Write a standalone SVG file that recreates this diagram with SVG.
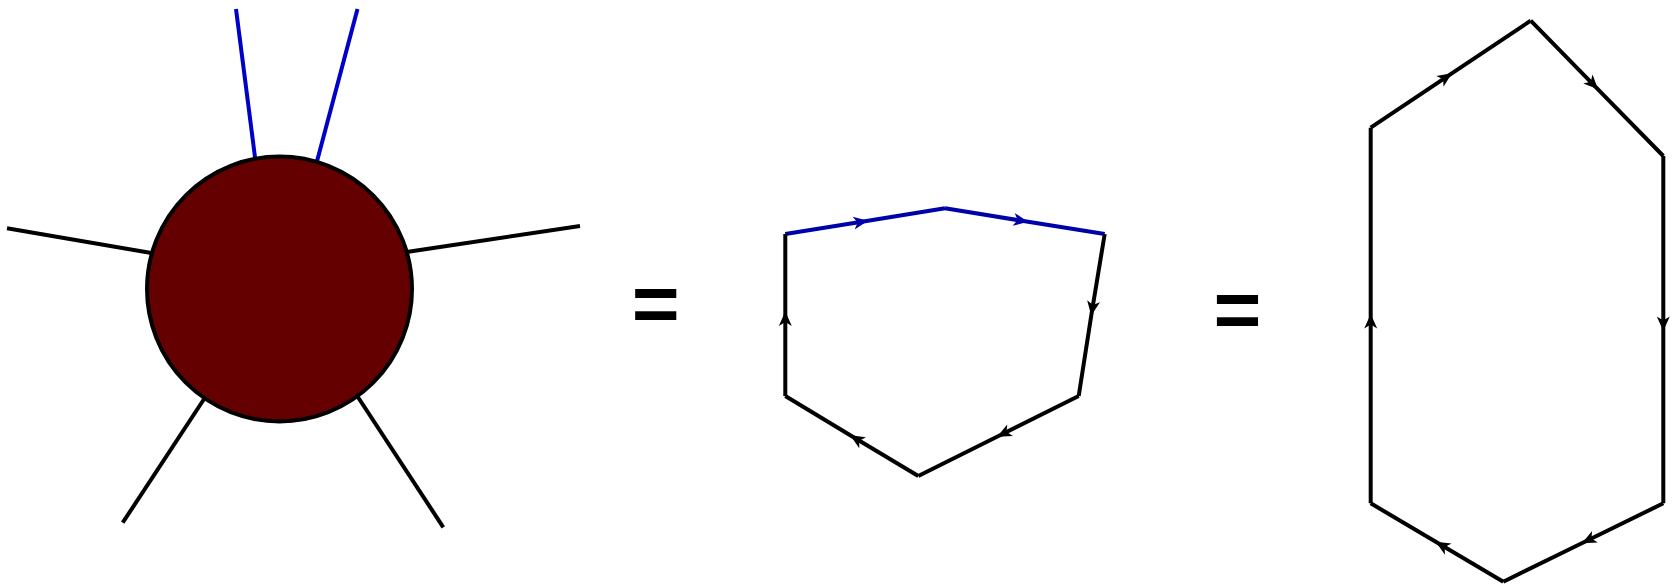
<svg xmlns="http://www.w3.org/2000/svg" width="1676" height="586" viewBox="0 0 1676 586">
<style>
.k{stroke:#000;stroke-width:4;fill:none;stroke-linecap:butt;stroke-linejoin:miter}
.b{stroke:#0000c8;stroke-width:4;fill:none}
.bh{stroke:#0000aa;stroke-width:4;fill:none;stroke-linejoin:miter}
.eq{font-family:"Liberation Sans",Arial,sans-serif;font-weight:bold;font-size:82px;fill:#000}
</style>
<defs>
<marker id="ak" markerUnits="userSpaceOnUse" markerWidth="18" markerHeight="16" viewBox="-16 -8 18 16" refX="0" refY="0" orient="auto">
<path d="M1.5,0 L-13,-6.5 L-9,0 L-13,6.5 Z" fill="#000"/>
</marker>
<marker id="ab" markerUnits="userSpaceOnUse" markerWidth="18" markerHeight="16" viewBox="-16 -8 18 16" refX="0" refY="0" orient="auto">
<path d="M1.5,0 L-13,-6.5 L-9,0 L-13,6.5 Z" fill="#0000aa"/>
</marker>
</defs>
<g id="connectors">
<line class="b" x1="236" y1="9" x2="256" y2="165"/>
<line class="b" x1="357.5" y1="9" x2="316" y2="165"/>
<line class="k" x1="7" y1="228.3" x2="160" y2="254.5"/>
<line class="k" x1="580" y1="226" x2="400" y2="253"/>
<line class="k" x1="122.7" y1="522.7" x2="210" y2="390"/>
<line class="k" x1="443.3" y1="527.3" x2="352" y2="388"/>
</g>
<g id="blob">
<circle cx="279.5" cy="289" r="132.5" fill="#640000" stroke="#000" stroke-width="4"/>
</g>
<g id="eq1"><text class="eq" x="655.8" y="332" text-anchor="middle">=</text></g>
<g id="hex1">
<path class="bh" marker-mid="url(#ab)" d="M785.3,234 L866.5,221 L945,208.3"/>
<path class="bh" marker-mid="url(#ab)" d="M945,208.3 L1026.5,221.5 L1104.7,234"/>
<path class="k" marker-mid="url(#ak)" d="M1104.7,234 L1091.5,314 L1078.7,396"/>
<path class="k" marker-mid="url(#ak)" d="M1078.7,396 L998.5,436 L918.3,476"/>
<path class="k" marker-mid="url(#ak)" d="M918.3,476 L851.5,436 L785.3,396"/>
<path class="k" marker-mid="url(#ak)" d="M785.3,396 L785.3,313 L785.3,234"/>
</g>
<g id="eq2"><text class="eq" x="1237.5" y="338" text-anchor="middle">=</text></g>
<g id="hex2">
<path class="k" marker-mid="url(#ak)" d="M1370.7,127.7 L1450.7,74.2 L1530.7,20.7"/>
<path class="k" marker-mid="url(#ak)" d="M1530.7,20.7 L1597,88.3 L1663.3,156"/>
<path class="k" marker-mid="url(#ak)" d="M1663.3,156 L1663.3,329.6 L1663.3,503.3"/>
<path class="k" marker-mid="url(#ak)" d="M1663.3,503.3 L1583.3,542.5 L1503.3,581.7"/>
<path class="k" marker-mid="url(#ak)" d="M1503.3,581.7 L1437,542.5 L1370.7,503.3"/>
<path class="k" marker-mid="url(#ak)" d="M1370.7,503.3 L1370.7,315.5 L1370.7,127.7"/>
</g>
</svg>
